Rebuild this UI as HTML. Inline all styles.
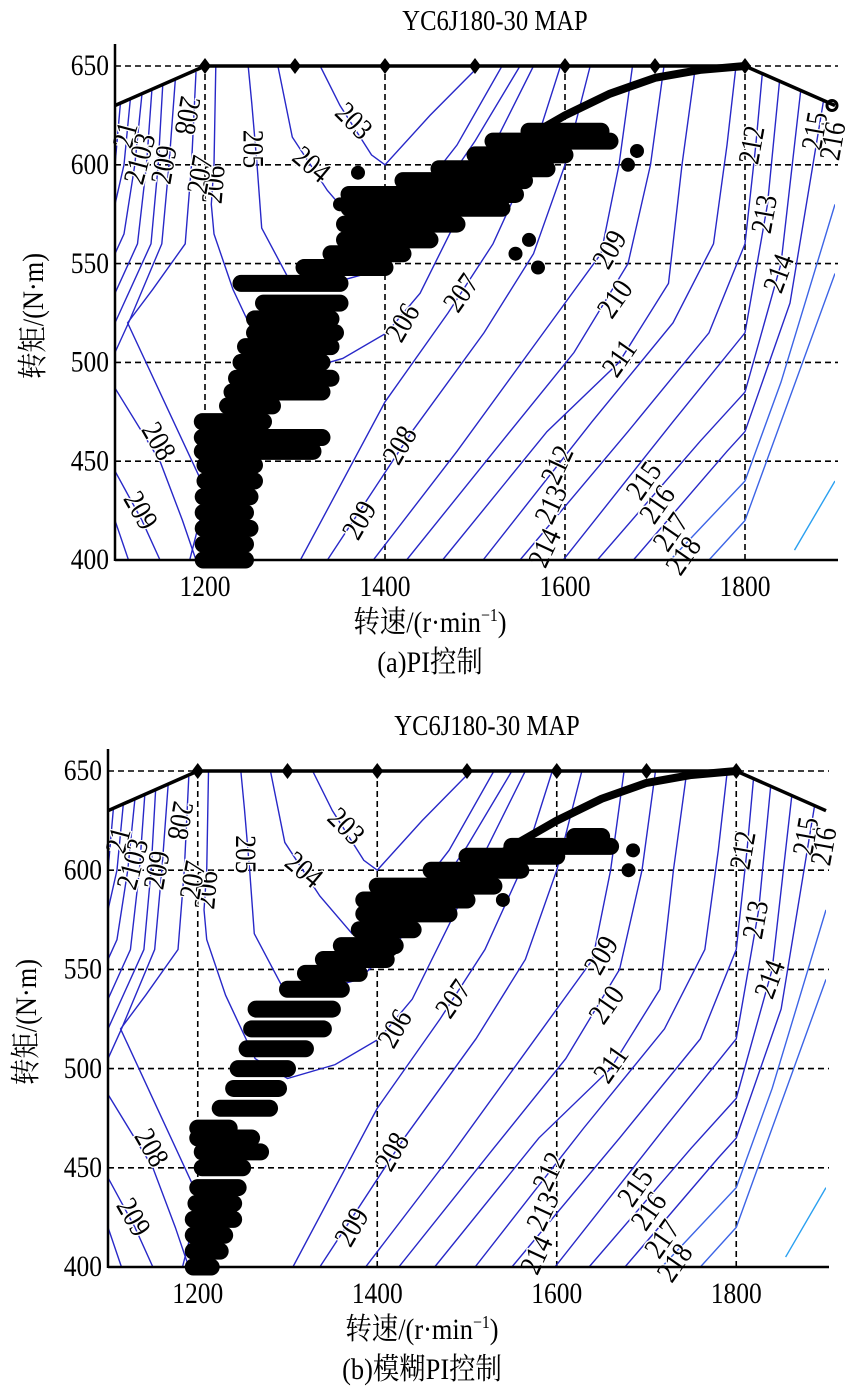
<!DOCTYPE html>
<html><head><meta charset="utf-8"><style>
html,body{margin:0;padding:0;background:#fff;}
svg{display:block;}
text{font-family:"Liberation Serif","Noto Serif CJK SC","Noto Sans CJK SC",serif;fill:#000;}
</style></head><body>
<svg id="fig" width="850" height="1397" viewBox="0 0 850 1397" xmlns="http://www.w3.org/2000/svg"></svg>
<script>
const rpmTicks=[1200,1400,1600,1800];
const torqueTicks=[400,450,500,550,600,650];
const envelopeRpm=[1100,1200,1300,1400,1500,1600,1700,1800,1900];
const envelopeTorque=[630,650,650,650,650,650,650,650,630];
const ridgeRpm=[1450,1500,1550,1600,1650,1700,1750,1800];
const ridgeTorque=[580,597,612,625,636,644,648,650];
const contourLevels=[203,204,205,206,207,208,209,210,211,212,213,214,215,216,217,218,219,
  213,212,211,210,209,208,207,208,209,210];
const contourPaths=[
 [[1328,650],[1350,630],[1385,605],[1400,600],[1450,625],[1500,648]],
 [[1281,650],[1297,614],[1336,587],[1372,568],[1420,575],[1480,610],[1530,650]],
 [[1248,650],[1252,631],[1258,599],[1263,568],[1298,538],[1324,538],[1380,545],[1440,572],[1500,612],[1550,650]],
 [[1212,650],[1210,600],[1207,580],[1210,565],[1231,537],[1264,505],[1300,495],[1353,502],[1402,515],[1439,535],[1510,600],[1565,650]],
 [[1306,400],[1400,480],[1470,525],[1520,560],[1560,600],[1595,650]],
 [[1336,400],[1430,465],[1510,515],[1565,555],[1600,600],[1628,650]],
 [[1387,400],[1480,455],[1560,505],[1640,555],[1660,600],[1675,650]],
 [[1424,400],[1530,460],[1610,505],[1670,550],[1695,600],[1710,650]],
 [[1464,400],[1580,465],[1660,500],[1715,540],[1730,600],[1745,650]],
 [[1509,400],[1630,470],[1720,520],[1765,560],[1780,610],[1790,650]],
 [[1550,400],[1670,465],[1760,515],[1800,560],[1812,610],[1820,650]],
 [[1598,400],[1720,470],[1800,515],[1825,580],[1840,650]],
 [[1636,400],[1750,460],[1800,485],[1840,550],[1865,650]],
 [[1676,400],[1780,455],[1800,465],[1850,530],[1890,640]],
 [[1717,400],[1800,440],[1840,490],[1900,580]],
 [[1760,400],[1800,420],[1900,545]],
 [[1855,405],[1900,440]],
 [[1106,631],[1100,600]],
 [[1117,633],[1110,600],[1100,580]],
 [[1130,636],[1122,600],[1110,565],[1100,555]],
 [[1141,638],[1135,600],[1125,560],[1100,535]],
 [[1153,640],[1148,600],[1140,560],[1100,520]],
 [[1167,643],[1160,600],[1152,560],[1115,520],[1100,505]],
 [[1190,647],[1185,600],[1178,560],[1142,537],[1114,520],[1160,475],[1202,434],[1183,400]],
 [[1100,487],[1150,450],[1175,420],[1190,400]],
 [[1100,445],[1130,420],[1150,400]],
 [[1100,420],[1115,400]]
];
const labelText=["203","204","205","206","207","208","21","2103","209","206","207","209","210","211","208","209","212","213","214","215","216","217","218","208","209","212","213","214","215","216"];
const labelRpm=[1365,1318,1253,1210,1195,1180,1112,1128,1155,1420,1485,1650,1656,1661,1417,1372,1592,1585,1578,1688,1703,1718,1732,1148,1128,1808,1822,1838,1878,1898];
const labelTorque=[622,600,608,590,595,625,615,603,600,520,535,557,532,502,458,420,448,428,406,440,428,414,402,460,425,610,575,545,617,612];
const labelAngle=[45,40,90,-85,-80,100,-75,-75,-80,-60,-55,-60,-55,-55,-60,-60,-65,-65,-65,-55,-55,-55,-55,60,60,-80,-80,-70,-80,-80];
const bandsA=[[400,1198,1245],[408,1198,1245],[416,1198,1250],[424,1198,1245],[432,1198,1250],[440,1200,1255],[448,1200,1255],[455,1197,1320],[462,1197,1330],[470,1197,1265],[478,1225,1275],[485,1230,1330],[492,1235,1340],[500,1240,1330],[508,1245,1340],[515,1255,1345],[522,1255,1340],[530,1265,1350],[540,1240,1350],[548,1310,1400],[555,1340,1420],[562,1355,1450],[570,1355,1480],[578,1360,1530],[585,1360,1545],[592,1420,1555],[598,1460,1580],[605,1500,1600],[612,1520,1650],[617,1560,1640]];
const dotsA=[[1670,600],[1680,607],[1545,555],[1560,562],[1570,548],[1350,580],[1370,596]];
const bandsB=[[400,1195,1215],[408,1195,1225],[416,1195,1230],[424,1195,1240],[432,1198,1240],[440,1200,1245],[450,1205,1250],[458,1205,1270],[465,1200,1260],[470,1200,1235],[480,1225,1280],[490,1240,1290],[500,1245,1300],[510,1255,1320],[520,1260,1340],[530,1265,1350],[540,1300,1360],[548,1320,1380],[555,1340,1410],[562,1360,1420],[570,1380,1440],[578,1385,1480],[585,1385,1500],[592,1400,1530],[600,1460,1560],[607,1500,1600],[612,1550,1660],[617,1620,1650]];
const dotsB=[[1680,600],[1685,610],[1415,560],[1235,425],[1540,585]];

const NS="http://www.w3.org/2000/svg";
const svg=document.getElementById('fig');
function mk(tag,attrs,parent){const e=document.createElementNS(NS,tag);for(const k in attrs)e.setAttribute(k,attrs[k]);(parent||svg).appendChild(e);return e;}

function drawPanel(id,g,bands,dots,caption){
  const sx=r=>g.x0+(r-1100)*(g.x1-g.x0)/800;
  const sy=t=>g.y400-(t-400)*(g.y400-g.y650)/250;
  const panel=mk('g',{});
  
  
  const clipId='clip'+id;
  const defs=mk('defs',{},panel);
  const cp=mk('clipPath',{id:clipId},defs);
  let poly=envelopeRpm.map((r,i)=>sx(r)+','+sy(envelopeTorque[i])).join(' ');
  poly+=' '+sx(1900)+','+sy(400)+' '+sx(1100)+','+sy(400);
  mk('polygon',{points:poly},cp);
  const grid=mk('g',{stroke:'#000','stroke-width':1.6,'stroke-dasharray':'6,4'},panel);
  
  
  rpmTicks.forEach(r=>mk('line',{x1:sx(r),x2:sx(r),y1:sy(400),y2:sy(650)},grid));
  torqueTicks.forEach(t=>mk('line',{x1:sx(1100),x2:sx(1900)+3,y1:sy(t),y2:sy(t)},grid));
  const cg=mk('g',{'clip-path':'url(#'+clipId+')',fill:'none','stroke-width':1.4},panel);
  
  
  contourPaths.forEach((pts,i)=>{
    const lv=contourLevels[i];
    const col=lv>=219?'#2aa0f0':(lv>=217&&pts[0][0]>1700?'#3c64e6':'#2828c8');
    const p=mk('polyline',{points:pts.map(p=>sx(p[0])+','+sy(p[1])).join(' '),stroke:col},cg);
    
    
  });
  const lg=mk('g',{'font-size':30,stroke:'#fff','stroke-width':3,'paint-order':'stroke'},panel);
  
  
  labelText.forEach((s,i)=>{
    const x=sx(labelRpm[i]),y=sy(labelTorque[i]);
    const t=mk('text',{x:0,y:0,'text-anchor':'middle','dominant-baseline':'central',transform:`translate(${x},${y}) rotate(${labelAngle[i]}) scale(0.85,1)`},lg);
    t.textContent=s;
    
    
  });
  const sg=mk('g',{stroke:'#000',fill:'#000'},panel);
  
  
  bands.forEach(b=>{
    const l=mk('line',{x1:sx(b[1]),x2:sx(b[2]),y1:sy(b[0]),y2:sy(b[0]),'stroke-width':17,'stroke-linecap':'round'},sg);
    
    
  });
  dots.forEach(d=>{
    const c=mk('circle',{cx:sx(d[0]),cy:sy(d[1]),r:7,stroke:'none'},sg);
    
    
  });
  const ridge=mk('polyline',{points:ridgeRpm.map((r,i)=>sx(r)+','+sy(ridgeTorque[i])).join(' '),fill:'none',stroke:'#000','stroke-width':8,'stroke-linecap':'round','stroke-linejoin':'round'},panel);
  
  
  const env=mk('polyline',{points:envelopeRpm.map((r,i)=>sx(r)+','+sy(envelopeTorque[i])).join(' '),fill:'none',stroke:'#000','stroke-width':3.5},panel);
  
  
  envelopeRpm.forEach((r,i)=>{
    if(r<1200||r>1800)return;
    const x=sx(r),y=sy(envelopeTorque[i]);
    const d=mk('polygon',{points:`${x},${y-8} ${x+6},${y} ${x},${y+8} ${x-6},${y}`,fill:'#000'},panel);
    
    
  });
  if(g.endCircle){const c=mk('circle',{cx:sx(1900)-3,cy:sy(630),r:5,fill:'none',stroke:'#000','stroke-width':3},panel);
    
    }
  const ax=mk('g',{stroke:'#000','stroke-width':2.5},panel);
  
  
  mk('line',{x1:g.x0,x2:g.x0,y1:g.yTop,y2:g.y400+1},ax);
  mk('line',{x1:g.x0,x2:g.x1+3,y1:g.y400,y2:g.y400},ax);
  torqueTicks.forEach(t=>{
    const e=mk('text',{x:0,y:0,'font-size':30,'text-anchor':'end','dominant-baseline':'central',transform:`translate(${g.x0-6},${sy(t)}) scale(0.85,1)`},panel);
    e.textContent=t;
    
    
  });
  rpmTicks.forEach(r=>{
    const e=mk('text',{x:0,y:0,'font-size':30,'text-anchor':'middle',transform:`translate(${sx(r)},${g.y400+36}) scale(0.85,1)`},panel);
    e.textContent=r;
    
    
  });
  const cx=(g.x0+g.x1)/2;
  const ti=mk('text',{x:0,y:0,'font-size':28,'text-anchor':'middle',transform:`translate(${cx+20},${g.yTop-14}) scale(0.88,1)`},panel);
  ti.textContent='YC6J180-30 MAP';
  
  
  const xt=mk('text',{x:0,y:0,'font-size':30,'text-anchor':'middle',transform:`translate(${cx-45},${g.y400+72}) scale(0.88,1)`},panel);
  xt.innerHTML='转速/(r·min<tspan font-size="18" dy="-11">−1</tspan><tspan dy="11">)</tspan>';
  
  
  const yt=mk('text',{x:0,y:0,'font-size':30,'text-anchor':'middle',transform:`translate(${g.x0-72},${(g.y400+g.y650)/2+3}) rotate(-90) scale(0.88,1)`},panel);
  yt.textContent='转矩/(N·m)';
  
  
  const cap=mk('text',{x:0,y:0,'font-size':30,'text-anchor':'middle',transform:`translate(${cx-45},${g.y400+112}) scale(0.88,1)`},panel);
  cap.textContent=caption;
  
  
}
drawPanel('a',{x0:115,x1:835,y400:560,y650:66,yTop:44,endCircle:true},bandsA,dotsA,'(a)PI控制');
drawPanel('b',{x0:108,x1:826,y400:1267,y650:771,yTop:749,endCircle:false},bandsB,dotsB,'(b)模糊PI控制');
</script>
</body></html>
